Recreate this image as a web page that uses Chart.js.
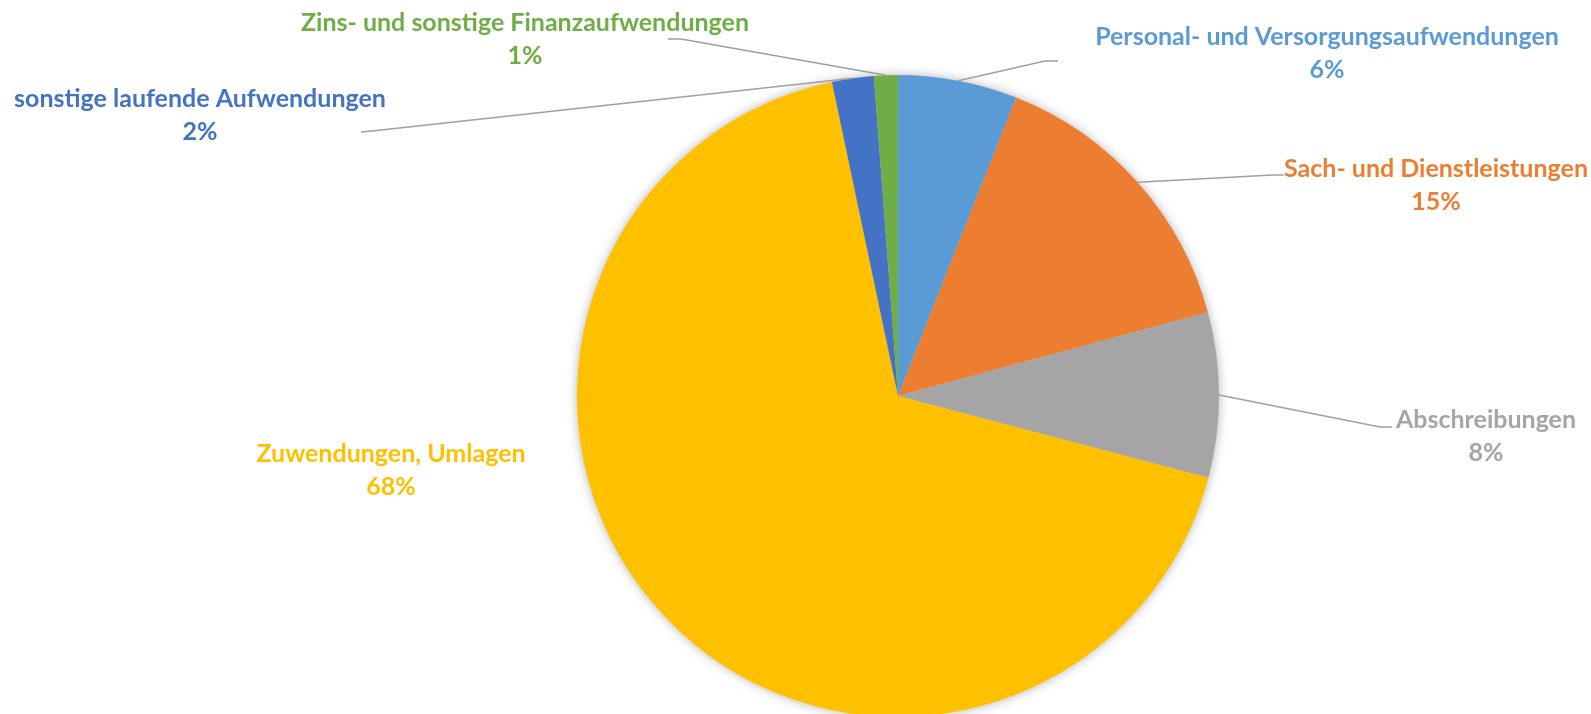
<!DOCTYPE html>
<html>
<head>
<meta charset="utf-8">
<script src="https://cdn.jsdelivr.net/npm/chart.js@4.4.0/dist/chart.umd.min.js"></script>
<style>
  html, body { margin: 0; padding: 0; background: #ffffff; }
  #wrap { width: 1591px; height: 714px; position: relative; }
</style>
</head>
<body>
<div id="wrap"><canvas id="c" width="1591" height="714"></canvas></div>
<script>
const categories = [
  "Personal- und Versorgungsaufwendungen",
  "Sach- und Dienstleistungen",
  "Abschreibungen",
  "Zuwendungen, Umlagen",
  "sonstige laufende Aufwendungen",
  "Zins- und sonstige Finanzaufwendungen"
];
const shares = [6.0, 14.8, 8.3, 67.6, 2.1, 1.2];
const sliceColors = ["#5B9BD5", "#ED7D31", "#A5A5A5", "#FFC000", "#4472C4", "#70AD47"];

// label layout: text centre x, first line centre y; leader elbow + end (null = no leader)
const labelLayout = [
  { x: 1327, y: 37,  elbow: [1045, 61],  end: [1058, 61] },
  { x: 1436, y: 169, elbow: [1273, 175], end: [1284, 175] },
  { x: 1486, y: 420, elbow: [1380, 427], end: [1392, 427] },
  { x: 391,  y: 454, elbow: null, end: null },
  { x: 200,  y: 99,  elbow: [372, 131],  end: [361, 132] },
  { x: 525,  y: 23,  elbow: [681, 39],   end: [668, 39] }
];

const shadowPlugin = {
  id: 'pieShadow',
  beforeDatasetsDraw(chart) {
    const arc = chart.getDatasetMeta(0).data[0];
    if (!arc) return;
    const ctx = chart.ctx;
    ctx.save();
    ctx.shadowColor = 'rgba(0,0,0,0.35)';
    ctx.shadowBlur = 12;
    ctx.fillStyle = '#cccccc';
    ctx.beginPath();
    ctx.arc(arc.x, arc.y, arc.outerRadius - 1, 0, Math.PI * 2);
    ctx.fill();
    ctx.restore();
  }
};

const labelPlugin = {
  id: 'pieLabels',
  afterDatasetsDraw(chart) {
    const ctx = chart.ctx;
    const meta = chart.getDatasetMeta(0);
    const total = shares.reduce((a, b) => a + b, 0);
    ctx.save();
    meta.data.forEach((arc, i) => {
      const L = labelLayout[i];
      const mid = (arc.startAngle + arc.endAngle) / 2;
      if (L.elbow) {
        const px = arc.x + arc.outerRadius * Math.cos(mid);
        const py = arc.y + arc.outerRadius * Math.sin(mid);
        ctx.strokeStyle = '#A0A0A0';
        ctx.lineWidth = 1.6;
        ctx.beginPath();
        ctx.moveTo(px, py);
        ctx.lineTo(L.elbow[0], L.elbow[1]);
        ctx.lineTo(L.end[0], L.end[1]);
        ctx.stroke();
      }
      ctx.fillStyle = sliceColors[i];
      ctx.font = 'bold 25px Lato, "Open Sans", sans-serif';
      ctx.textAlign = 'center';
      ctx.textBaseline = 'middle';
      ctx.fillText(categories[i], L.x, L.y);
      ctx.fillText(Math.round(shares[i] / total * 100) + '%', L.x, L.y + 33);
    });
    ctx.restore();
  }
};

new Chart(document.getElementById('c'), {
  type: 'pie',
  data: {
    labels: categories,
    datasets: [{
      data: shares,
      backgroundColor: sliceColors,
      borderWidth: 0
    }]
  },
  options: {
    responsive: false,
    animation: false,
    radius: 321,
    layout: { padding: { top: 78, bottom: 0, left: 205, right: 0 } },
    plugins: {
      legend: { display: false },
      tooltip: { enabled: false }
    }
  },
  plugins: [shadowPlugin, labelPlugin]
});
</script>
</body>
</html>
